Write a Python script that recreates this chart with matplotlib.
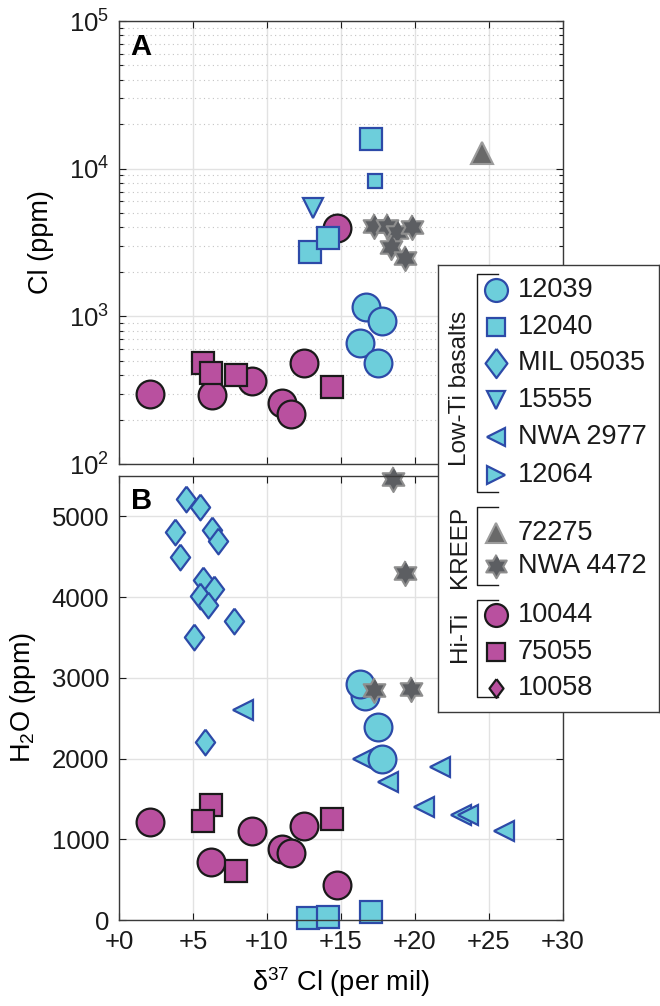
import matplotlib.pyplot as plt
from matplotlib.ticker import FixedLocator, LogLocator, NullFormatter, FuncFormatter
import numpy as np

plt.rcParams['font.family'] = ['Liberation Sans', 'DejaVu Sans']
plt.rcParams['mathtext.fontset'] = 'custom'
plt.rcParams['mathtext.rm'] = 'Liberation Sans'
plt.rcParams['mathtext.it'] = 'Liberation Sans:italic'
plt.rcParams['mathtext.bf'] = 'Liberation Sans:bold'

# ---- panel A: d37Cl vs Cl (ppm) ----
a_10044_x = [2.1, 6.3, 9.0, 11.0, 11.6, 12.5, 14.7]
a_10044_y = [298, 295, 365, 258, 218, 481, 3980]
a_75055_x = [5.7, 6.2, 7.9, 14.4]
a_75055_y = [485, 415, 400, 330]
a_12039_x = [16.7, 17.8, 16.3, 17.5]
a_12039_y = [1160, 930, 660, 480]
a_12040_x = [17.0, 12.9, 14.1]
a_12040_y = [15900, 2710, 3400]
a_12040_small_x = [17.3]
a_12040_small_y = [8300]
a_15555_x = [13.1]
a_15555_y = [5400]
a_72275_x = [24.5]
a_72275_y = [12700]
a_4472_x = [17.2, 18.1, 18.8, 19.8, 18.4, 19.3]
a_4472_y = [4100, 4100, 3750, 4000, 2950, 2500]

# ---- panel B: d37Cl vs H2O (ppm) ----
b_mil_x = [4.5, 5.5, 3.8, 6.3, 6.7, 4.1, 5.7, 6.4, 5.5, 6.0, 7.8, 5.1, 5.8]
b_mil_y = [5210, 5110, 4810, 4830, 4700, 4500, 4210, 4100, 4010, 3900, 3700, 3500, 2200]
b_2977_x = [8.4, 16.5, 18.2, 21.7, 20.6, 23.1, 23.6, 26.0]
b_2977_y = [2600, 2000, 1710, 1890, 1400, 1300, 1300, 1100]
b_12039_x = [16.3, 16.6, 17.5, 17.8]
b_12039_y = [2920, 2770, 2390, 2000]
b_12040_x = [12.8, 14.1, 17.0]
b_12040_y = [30, 40, 100]
b_4472_x = [18.5, 19.3, 17.2, 19.7]
b_4472_y = [5460, 4300, 2850, 2860]
b_10044_x = [2.1, 6.2, 9.0, 11.0, 11.6, 12.5, 14.7]
b_10044_y = [1220, 720, 1100, 880, 830, 1160, 430]
b_75055_x = [6.2, 5.7, 7.9, 14.4]
b_75055_y = [1430, 1230, 610, 1250]

xticks = [0, 5, 10, 15, 20, 25, 30]
h2o_ticks = [0, 1000, 2000, 3000, 4000, 5000]

leg_groups = ['Low-Ti basalts', 'KREEP', 'Hi-Ti']
leg_labels = ['12039', '12040', 'MIL 05035', '15555', 'NWA 2977', '12064',
              '72275', 'NWA 4472', '10044', '75055', '10058']

# styles
cyan = dict(mfc='#6dcedb', mec='#2d4aa8', mew=1.6)
mag = dict(mfc='#b9509f', mec='#1a1a1a', mew=1.6)
star = dict(mfc='#5c5e62', mec='#8e8e8e', mew=1.5)
tri = dict(mfc='#696969', mec='#9c9c9c', mew=1.5)

# six pointed star (hexagram) and a tall diamond like matlab's
ang = np.deg2rad(np.arange(12) * 30 + 90)
rad = np.where(np.arange(12) % 2 == 0, 1.0, 0.577)
hexagram = list(zip(rad * np.cos(ang), rad * np.sin(ang)))
diamond = [(0, 1), (0.75, 0), (0, -1), (-0.75, 0), (0, 1)]

W, H = 660, 1006
fig = plt.figure(figsize=(W / 100, H / 100), dpi=100)
axA = fig.add_axes([119 / W, 1 - 464 / H, 444 / W, 443 / H])
axB = fig.add_axes([119 / W, 1 - 920 / H, 444 / W, 444 / H])


def pts(ax, x, y, m, ms, st):
    ax.plot(x, y, ls='none', marker=m, ms=ms, clip_on=False, **st)


for ax in (axA, axB):
    ax.set_xlim(0, 30)
    ax.xaxis.set_major_locator(FixedLocator(xticks))
    ax.set_axisbelow(True)
    ax.grid(which='major', color='#e2e2e2', lw=1.0)
    ax.tick_params(which='both', direction='in', top=True, right=True,
                   labelsize=18.5, colors='#1a1a1a', width=0.8)
    ax.tick_params(which='major', length=5, pad=7)
    ax.tick_params(which='minor', length=3)
    for s in ax.spines.values():
        s.set_color('#3a3a3a')
        s.set_linewidth(1.0)

# panel A
axA.set_yscale('log')
axA.set_ylim(1e2, 1e5)
axA.yaxis.set_major_locator(LogLocator(base=10, numticks=10))
axA.yaxis.set_minor_locator(LogLocator(base=10, subs=np.arange(2, 10), numticks=20))
axA.yaxis.set_minor_formatter(NullFormatter())
axA.grid(which='minor', axis='y', color='#c4c4c4', ls=(0, (1, 3)), lw=0.8)
axA.tick_params(axis='x', labelbottom=False)
axA.set_ylabel('Cl (ppm)', fontsize=19.5, labelpad=11)
axA.text(0.026, 0.972, 'A', transform=axA.transAxes, ha='left', va='top',
         fontsize=21, fontweight='bold')

pts(axA, a_10044_x, a_10044_y, 'o', 20, mag)
pts(axA, a_75055_x, a_75055_y, 's', 16, mag)
pts(axA, a_15555_x, a_15555_y, 'v', 15, cyan)
pts(axA, a_12039_x, a_12039_y, 'o', 20, cyan)
pts(axA, a_12040_x, a_12040_y, 's', 16, cyan)
pts(axA, a_12040_small_x, a_12040_small_y, 's', 10.5, cyan)
pts(axA, a_72275_x, a_72275_y, '^', 16, tri)
pts(axA, a_4472_x, a_4472_y, hexagram, 18, star)

# panel B
axB.set_ylim(0, 5500)
axB.yaxis.set_major_locator(FixedLocator(h2o_ticks))
axB.xaxis.set_major_formatter(FuncFormatter(lambda v, p: '+%g' % v))
axB.set_ylabel(r'$\mathregular{H_2O}$ (ppm)', fontsize=19.5, labelpad=10)
axB.set_xlabel(r'$\mathregular{\delta^{37}}$ Cl (per mil)', fontsize=19.5, labelpad=8)
axB.text(0.026, 0.975, 'B', transform=axB.transAxes, ha='left', va='top',
         fontsize=21, fontweight='bold')

pts(axB, b_10044_x, b_10044_y, 'o', 20, mag)
pts(axB, b_75055_x, b_75055_y, 's', 16, mag)
pts(axB, b_mil_x, b_mil_y, diamond, 18.5, cyan)
pts(axB, b_2977_x, b_2977_y, '<', 14.5, cyan)
pts(axB, b_12039_x[::-1], b_12039_y[::-1], 'o', 20, cyan)
pts(axB, b_12040_x, b_12040_y, 's', 16, cyan)
pts(axB, b_4472_x, b_4472_y, hexagram, 18, star)

# legend box, drawn in pixel units
lw_, lh_ = 221, 447
lg = fig.add_axes([438 / W, 1 - 712 / H, lw_ / W, lh_ / H], zorder=10)
lg.set_xlim(0, lw_)
lg.set_ylim(lh_, 0)
lg.set_xticks([])
lg.set_yticks([])
for s in lg.spines.values():
    s.set_color('#3a3a3a')
    s.set_linewidth(1.0)

rows = [25, 61.7, 98.3, 135, 172.3, 210, 268.3, 301, 350, 386.7, 423.3]
marks = [('o', 16.5, cyan), ('s', 13, cyan), (diamond, 21, cyan), ('v', 13, cyan),
         ('<', 13, cyan), ('>', 13, cyan), ('^', 14, tri), (hexagram, 17, star),
         ('o', 16.5, mag), ('s', 13, mag), (diamond, 13.5, mag)]
for yy, lab, (m, ms, st) in zip(rows, leg_labels, marks):
    lg.plot([57.5], [yy], ls='none', marker=m, ms=ms, **st)
    lg.text(80, yy, lab, fontsize=19.5, va='center', ha='left', color='#1a1a1a')

brackets = [(9, 227), (242, 320), (335, 432)]
label_y = [123, 282, 372]
for (y0, y1), gy, g in zip(brackets, label_y, leg_groups):
    lg.plot([60, 39, 39, 60], [y0, y0, y1, y1], color='#1a1a1a', lw=1.0)
    lg.text(21.5, gy, g, rotation=90, fontsize=17.5, ha='center', va='center',
            color='#1a1a1a')

fig.savefig('out.png', dpi=100)
